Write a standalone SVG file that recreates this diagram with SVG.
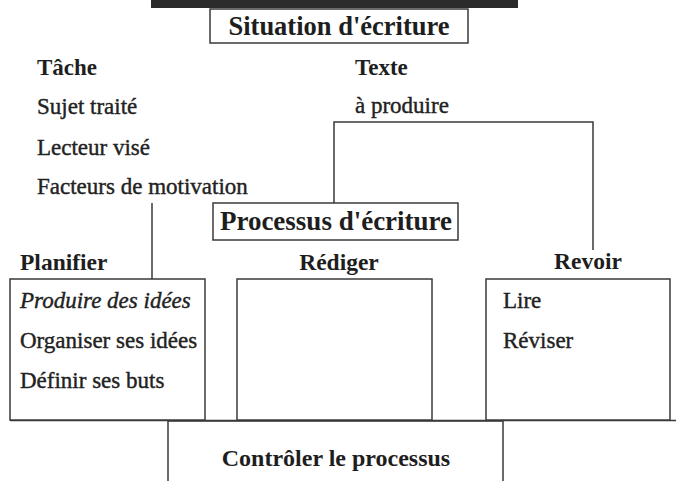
<svg xmlns="http://www.w3.org/2000/svg" width="676" height="481" viewBox="0 0 676 481">
<style>
.h{font-family:"Liberation Serif","Times New Roman",serif;font-weight:bold;fill:#1e1e1e}
.t{font-family:"Liberation Serif","Times New Roman",serif;font-size:23px;fill:#222;stroke:#222;stroke-width:0.4}
.box{fill:#fff;stroke:#3a3a3a;stroke-width:1.5}
.ln{fill:none;stroke:#3a3a3a;stroke-width:1.5}
</style>
<rect width="676" height="481" fill="#fff"/>
<g id="banner"><rect x="151" y="0" width="367" height="8" fill="#2b2b2b"/></g>
<g id="situation">
<rect class="box" x="210" y="9" width="258" height="34"/>
<text class="h" x="339" y="35" font-size="26.5" text-anchor="middle">Situation d'écriture</text>
</g>
<g id="tache">
<text class="h" x="37" y="75" font-size="23">Tâche</text>
<text class="t" x="37" y="114">Sujet traité</text>
<text class="t" x="37" y="155">Lecteur visé</text>
<text class="t" x="37" y="194">Facteurs de motivation</text>
</g>
<g id="texte">
<text class="h" x="355" y="75" font-size="23">Texte</text>
<text class="t" x="355" y="113">à produire</text>
</g>
<g id="connectors">
<polyline class="ln" points="334,203 334,122 593,122 593,250"/>
<line class="ln" x1="152" y1="203" x2="152" y2="279"/>
<line class="ln" x1="10" y1="420.5" x2="676" y2="420.5"/>
<polyline class="ln" points="168,481 168,421 503,421 503,481"/>
</g>
<g id="processus">
<rect class="box" x="213" y="203" width="245" height="37"/>
<text class="h" x="336" y="230" font-size="27" text-anchor="middle">Processus d'écriture</text>
</g>
<g id="planifier">
<text class="h" x="20" y="270" font-size="23.5">Planifier</text>
<rect class="box" x="10" y="279" width="195" height="141"/>
<text class="t" x="20" y="308" font-style="italic">Produire des idées</text>
<text class="t" x="20" y="348">Organiser ses idées</text>
<text class="t" x="20" y="388">Définir ses buts</text>
</g>
<g id="rediger">
<text class="h" x="339" y="270" font-size="23.5" text-anchor="middle">Rédiger</text>
<rect class="box" x="237" y="279" width="195" height="141"/>
</g>
<g id="revoir">
<text class="h" x="588" y="269" font-size="23.5" text-anchor="middle">Revoir</text>
<rect class="box" x="486" y="279" width="184" height="141"/>
<text class="t" x="503" y="308">Lire</text>
<text class="t" x="503" y="348">Réviser</text>
</g>
<g id="controler">
<text class="h" x="336" y="466" font-size="24" text-anchor="middle">Contrôler le processus</text>
</g>
</svg>
